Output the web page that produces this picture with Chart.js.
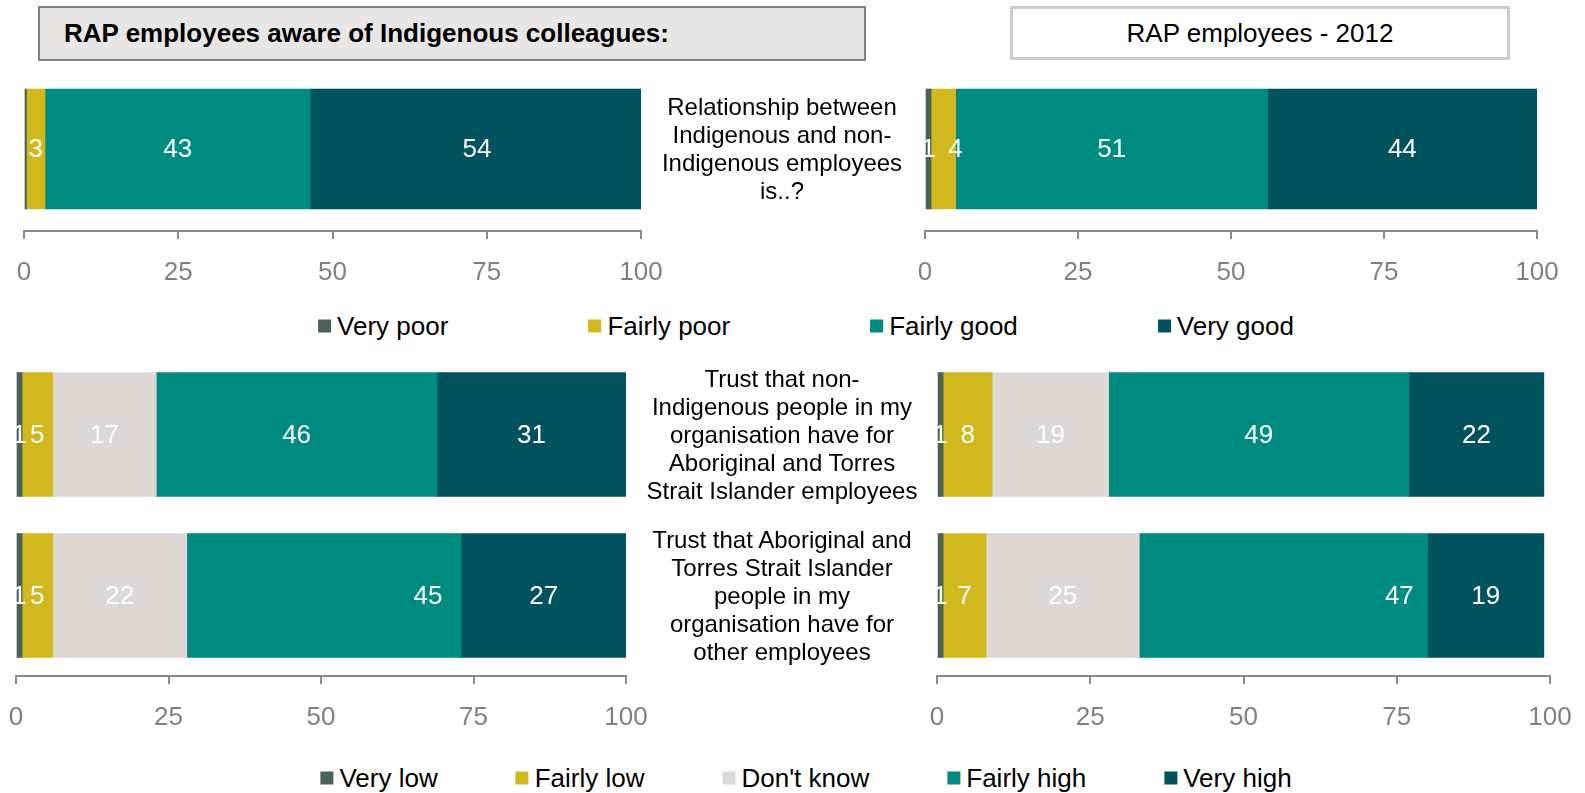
<!DOCTYPE html>
<html>
<head>
<meta charset="utf-8">
<script src="https://cdn.jsdelivr.net/npm/chart.js@4.4.1/dist/chart.umd.min.js"></script>
<style>
  body { margin: 0; width: 1585px; height: 793px; background: #fff; position: relative; overflow: hidden;
         font-family: "Liberation Sans", Arial, sans-serif; color: #000; }
  .box { position: absolute; box-sizing: border-box; display: flex; align-items: center; font-size: 26px; }
  #titleLeft { left: 38px; top: 6px; width: 828px; height: 55px; background: #e7e6e4; border: 2px solid #808080;
               font-weight: bold; padding-left: 24px; }
  #titleRight { left: 1010px; top: 6px; width: 500px; height: 54px; background: #fff; border: 3px solid #c9d0c9;
                justify-content: center; }
  .cat { position: absolute; width: 320px; text-align: center; font-size: 24px; line-height: 28px;
         transform: translate(-50%, -50%); }
  .legend { position: absolute; display: flex; transform: translate(-50%, -50%);
            font-size: 26px; white-space: nowrap; }
  .legend span { display: flex; align-items: center; }
  .legend i { display: inline-block; width: 13px; height: 13px; margin-right: 6px; }
  canvas { position: absolute; }
</style>
</head>
<body>
<div class="box" id="titleLeft">RAP employees aware of Indigenous colleagues:</div>
<div class="box" id="titleRight">RAP employees - 2012</div>

<script>
// question wording, one entry per bar row
const relRows = [['Relationship between', 'Indigenous and non-', 'Indigenous employees', 'is..?']];
const trustRows = [
  ['Trust that non-', 'Indigenous people in my', 'organisation have for', 'Aboriginal and Torres', 'Strait Islander employees'],
  ['Trust that Aboriginal and', 'Torres Strait Islander', 'people in my', 'organisation have for', 'other employees']
];

const relSeries = ['Very poor', 'Fairly poor', 'Fairly good', 'Very good'];
const trustSeries = ['Very low', 'Fairly low', "Don't know", 'Fairly high', 'Very high'];
const xTicks = [0, 25, 50, 75, 100];

// RAP employees aware of Indigenous colleagues (%)
const awareRelVeryPoor = [0.4];
const awareRelFairlyPoor = [3];
const awareRelFairlyGood = [43];
const awareRelVeryGood = [54];

const awareTrustVeryLow = [1, 1];
const awareTrustFairlyLow = [5, 5];
const awareTrustDontKnow = [17, 22];
const awareTrustFairlyHigh = [46, 45];
const awareTrustVeryHigh = [31, 27];

// RAP employees 2012 (%)
const allRelVeryPoor = [1];
const allRelFairlyPoor = [4];
const allRelFairlyGood = [51];
const allRelVeryGood = [44];

const allTrustVeryLow = [1, 1];
const allTrustFairlyLow = [8, 7];
const allTrustDontKnow = [19, 25];
const allTrustFairlyHigh = [49, 47];
const allTrustVeryHigh = [22, 19];

const relColors = ['#4b6354', '#d1b81d', '#008b80', '#00525f'];
const trustColors = ['#4b6354', '#d1b81d', '#ddd8d4', '#008b80', '#00525f'];

Chart.defaults.font.family = '"Liberation Sans", Arial, sans-serif';

// white value text centred on each segment; shifts nudge a few labels sideways
const barValues = {
  id: 'barValues',
  afterDatasetsDraw(chart, args, opts) {
    const ctx = chart.ctx;
    ctx.save();
    ctx.fillStyle = '#ffffff';
    ctx.font = '26px "Liberation Sans", Arial, sans-serif';
    ctx.textAlign = 'center';
    ctx.textBaseline = 'middle';
    chart.data.datasets.forEach((ds, i) => {
      chart.getDatasetMeta(i).data.forEach((bar, j) => {
        const v = ds.data[j];
        if (v < 1) return;
        const p = bar.getProps(['x', 'base', 'y'], true);
        const dx = (opts.shifts && opts.shifts[i + ':' + j]) || 0;
        ctx.fillText(String(v), (p.x + p.base) / 2 + dx, p.y + 1);
      });
    });
    ctx.restore();
  }
};

function drawPanel(area, rows, series, colors, values, shifts) {
  const padL = 30, padR = 40, axisH = 62;
  const cv = document.createElement('canvas');
  cv.width = area.right - area.left + padL + padR;
  cv.height = area.bottom - area.top + axisH;
  cv.style.left = (area.left - padL) + 'px';
  cv.style.top = area.top + 'px';
  document.body.appendChild(cv);

  new Chart(cv, {
    type: 'bar',
    data: {
      labels: rows,
      datasets: series.map((name, i) => ({
        label: name,
        data: values[i],
        backgroundColor: colors[i],
        barThickness: area.bar
      }))
    },
    options: {
      indexAxis: 'y',
      responsive: false,
      animation: false,
      devicePixelRatio: 1,
      layout: { padding: { left: padL, right: padR, top: 0, bottom: 0 } },
      plugins: {
        legend: { display: false },
        tooltip: { enabled: false },
        barValues: { shifts: shifts }
      },
      scales: {
        x: {
          stacked: true,
          min: 0,
          max: 100,
          afterFit: s => { s.height = axisH; },
          afterBuildTicks: s => { s.ticks = xTicks.map(v => ({ value: v })); },
          ticks: { color: '#808080', font: { size: 26 }, padding: 18, maxRotation: 0 },
          grid: { drawOnChartArea: false, drawTicks: true, tickLength: 8, color: '#8a8a8a', lineWidth: 2 },
          border: { display: true, color: '#8a8a8a', width: 2 }
        },
        y: { stacked: true, display: false }
      }
    },
    plugins: [barValues]
  });
}

drawPanel({ left: 24, right: 641, top: 67, bottom: 231, bar: 120 }, relRows, relSeries, relColors,
  [awareRelVeryPoor, awareRelFairlyPoor, awareRelFairlyGood, awareRelVeryGood], {});
drawPanel({ left: 925, right: 1537, top: 67, bottom: 231, bar: 120 }, relRows, relSeries, relColors,
  [allRelVeryPoor, allRelFairlyPoor, allRelFairlyGood, allRelVeryGood], { '1:0': 12 });
drawPanel({ left: 16, right: 626, top: 354, bottom: 676, bar: 124 }, trustRows, trustSeries, trustColors,
  [awareTrustVeryLow, awareTrustFairlyLow, awareTrustDontKnow, awareTrustFairlyHigh, awareTrustVeryHigh],
  { '3:1': 104 });
drawPanel({ left: 937, right: 1550, top: 354, bottom: 676, bar: 124 }, trustRows, trustSeries, trustColors,
  [allTrustVeryLow, allTrustFairlyLow, allTrustDontKnow, allTrustFairlyHigh, allTrustVeryHigh],
  { '3:1': 116 });

// question text between the two columns
function addRowLabels(rows, centers) {
  rows.forEach((lines, i) => {
    const d = document.createElement('div');
    d.className = 'cat';
    d.style.left = '782px';
    d.style.top = centers[i] + 'px';
    d.innerHTML = lines.join('<br>');
    document.body.appendChild(d);
  });
}
addRowLabels(relRows, [149]);
addRowLabels(trustRows, [435, 596]);

function addLegend(series, colors, centerY, gap) {
  const lg = document.createElement('div');
  lg.className = 'legend';
  lg.style.left = '806px';
  lg.style.top = centerY + 'px';
  lg.style.gap = gap + 'px';
  series.forEach((name, i) => {
    const s = document.createElement('span');
    const m = document.createElement('i');
    m.style.background = colors[i];
    s.appendChild(m);
    s.appendChild(document.createTextNode(name));
    lg.appendChild(s);
  });
  document.body.appendChild(lg);
}
addLegend(relSeries, relColors, 326, 140);
addLegend(trustSeries, trustColors, 778, 78);
</script>
</body>
</html>
